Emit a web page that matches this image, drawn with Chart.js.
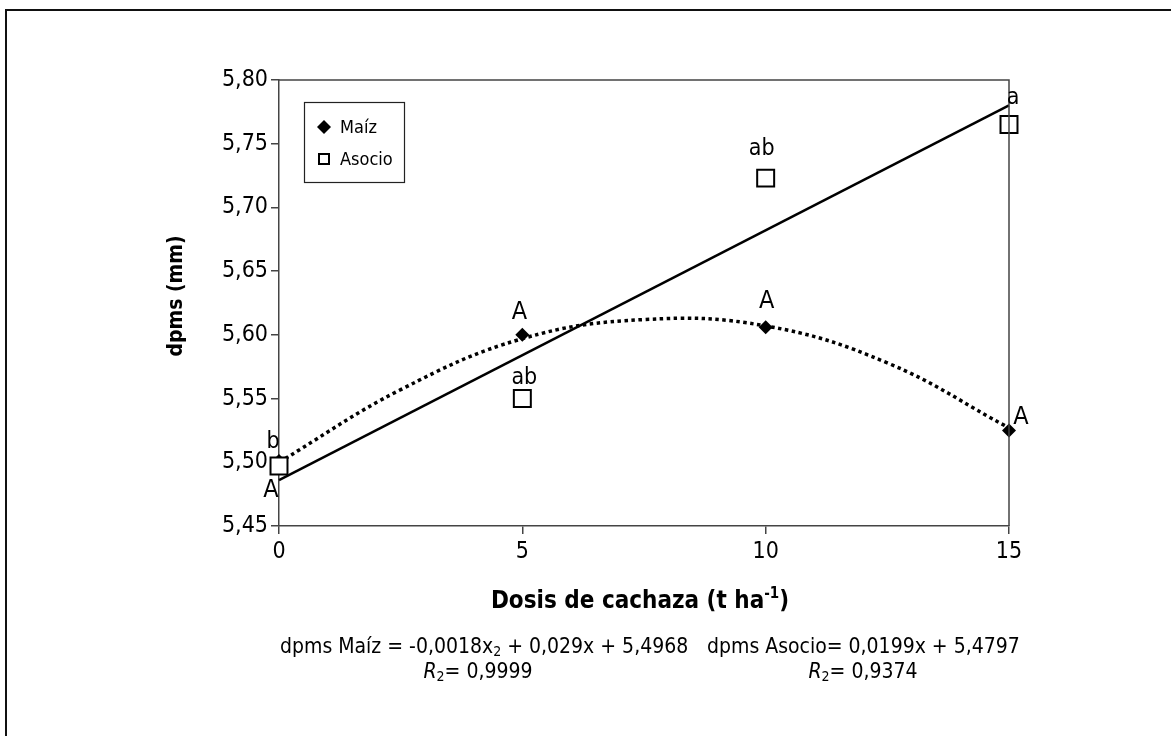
<!DOCTYPE html>
<html>
<head>
<meta charset="utf-8">
<script src="https://cdn.jsdelivr.net/npm/chart.js@4.4.1/dist/chart.umd.min.js"></script>
<style>
html, body { margin: 0; padding: 0; background: #fff; }
#wrap { position: relative; width: 1171px; height: 736px; overflow: hidden; }
#frame { position: absolute; left: 5px; top: 9px; right: -10px; bottom: -10px;
         border-top: 2px solid #111; border-left: 2px solid #111; }
canvas { position: absolute; left: 0; top: 0; }
</style>
</head>
<body>
<div id="wrap">
  <div id="frame"></div>
  <canvas id="myChart" width="1171" height="736"></canvas>
</div>
<script>
var FAMILY = '"DejaVu Sans", sans-serif';

// observed means
var doses = [0, 5, 10, 15];
var maiz = [5.501, 5.600, 5.606, 5.525];
var asocio = [5.497, 5.550, 5.723, 5.765];
var maizLetters = ['A', 'A', 'A', 'A'];
var asocioLetters = ['b', 'ab', 'ab', 'a'];

// trend lines
var maizFitX = [0, 2.5, 5, 7.5, 10, 12.5, 15];
var maizFitY = [5.500, 5.557, 5.597, 5.612, 5.607, 5.578, 5.527];
var asocioFitX = [0, 15];
var asocioFitY = [5.486, 5.780];

var xTicks = [0, 5, 10, 15];
var yTicks = [5.45, 5.50, 5.55, 5.60, 5.65, 5.70, 5.75, 5.80];

var xTitle = 'Dosis de cachaza (t ha';
var yTitle = 'dpms (mm)';
var eqMaiz = ['dpms Maíz = -0,0018x', '2', ' + 0,029x + 5,4968'];
var eqAsocio = 'dpms Asocio= 0,0199x + 5,4797';
var r2Maiz = '0,9999';
var r2Asocio = '0,9374';

function pts(xs, ys) {
    return xs.map(function (x, i) { return { x: x, y: ys[i] }; });
}

function fmt(v) {
    return v.toFixed(2).replace('.', ',');
}

// condensed face of the family
function setFont(ctx, pre, size) {
    ctx.font = (pre ? pre + ' ' : '') + 'condensed ' + size + 'px ' + FAMILY;
    try { ctx.fontStretch = 'condensed'; } catch (e) {}
}

// draws text pieces one after another, e.g. with small "2" subscripts
function runText(ctx, parts, x, y, align) {
    var total = 0;
    parts.forEach(function (p) { setFont(ctx, p.pre, p.size); total += ctx.measureText(p.t).width; });
    var cx = align === 'center' ? x - total / 2 : x;
    ctx.textAlign = 'left';
    parts.forEach(function (p) {
        setFont(ctx, p.pre, p.size);
        ctx.fillText(p.t, cx, y + (p.dy || 0));
        cx += ctx.measureText(p.t).width;
    });
}

var letterOffsets = {
    maiz: [[-8, 29], [-3, -22], [1, -26], [12, -13]],
    asocio: [[-6, -24], [2, -21], [-4, -29], [4, -27]]
};

var extras = {
    id: 'extras',
    afterDraw: function (chart) {
        var ctx = chart.ctx;
        var a = chart.chartArea;
        var xs = chart.scales.x, ys = chart.scales.y;
        ctx.save();

        // top and right frame of plot
        ctx.strokeStyle = '#444';
        ctx.lineWidth = 1.5;
        ctx.beginPath();
        ctx.moveTo(a.left, a.top);
        ctx.lineTo(a.right, a.top);
        ctx.lineTo(a.right, a.bottom);
        ctx.stroke();

        // legend
        ctx.strokeStyle = '#222';
        ctx.lineWidth = 1.2;
        ctx.strokeRect(304.5, 102.5, 100, 80);
        Chart.helpers.drawPoint(ctx, { pointStyle: 'rectRot', radius: 7, borderWidth: 0 }, 324, 127);
        ctx.fillStyle = '#000';
        ctx.fill();
        ctx.lineWidth = 2;
        ctx.strokeStyle = '#000';
        ctx.fillStyle = '#fff';
        ctx.fillRect(319, 154, 10, 10);
        ctx.strokeRect(319, 154, 10, 10);
        ctx.fillStyle = '#000';
        setFont(ctx, '', 18);
        ctx.textAlign = 'left';
        ctx.textBaseline = 'middle';
        ctx.fillText('Maíz', 340, 128);
        ctx.fillText('Asocio', 340, 160);

        // mean separation letters
        ctx.textAlign = 'center';
        doses.forEach(function (d, i) {
            var px = xs.getPixelForValue(d);
            var o = letterOffsets.maiz[i];
            setFont(ctx, '', 25);
            ctx.fillText(maizLetters[i], px + o[0], ys.getPixelForValue(maiz[i]) + o[1]);
            o = letterOffsets.asocio[i];
            setFont(ctx, '', 23);
            ctx.fillText(asocioLetters[i], px + o[0], ys.getPixelForValue(asocio[i]) + o[1]);
        });

        // axis titles
        setFont(ctx, 'bold', 24);
        var w1 = ctx.measureText(xTitle).width;
        setFont(ctx, 'bold', 15);
        var w2 = ctx.measureText('-1').width;
        setFont(ctx, 'bold', 24);
        var w3 = ctx.measureText(')').width;
        var tx = 640 - (w1 + w2 + w3) / 2;
        ctx.textAlign = 'left';
        ctx.fillText(xTitle, tx, 602);
        setFont(ctx, 'bold', 15);
        ctx.fillText('-1', tx + w1, 594);
        setFont(ctx, 'bold', 24);
        ctx.fillText(')', tx + w1 + w2, 602);

        ctx.save();
        ctx.translate(177, 296);
        ctx.rotate(-Math.PI / 2);
        ctx.textAlign = 'center';
        setFont(ctx, 'bold', 21);
        ctx.fillText(yTitle, 0, 0);
        ctx.restore();

        // regression equations
        runText(ctx, [
            { t: eqMaiz[0], size: 21 },
            { t: eqMaiz[1], size: 14, dy: 4 },
            { t: eqMaiz[2], size: 21 }
        ], 280, 648, 'left');
        runText(ctx, [
            { t: 'R', pre: 'italic', size: 21 },
            { t: '2', size: 14, dy: 4 },
            { t: '= ' + r2Maiz, size: 21 }
        ], 478, 673, 'center');
        runText(ctx, [{ t: eqAsocio, size: 21 }], 707, 648, 'left');
        runText(ctx, [
            { t: 'R', pre: 'italic', size: 21 },
            { t: '2', size: 14, dy: 4 },
            { t: '= ' + r2Asocio, size: 21 }
        ], 863, 673, 'center');

        ctx.restore();
    }
};

var context = document.getElementById('myChart').getContext('2d');

new Chart(context, {
    type: 'scatter',
    data: {
        datasets: [{
            label: 'Maíz ajuste',
            type: 'line',
            data: pts(maizFitX, maizFitY),
            borderColor: '#000',
            borderWidth: 3.5,
            borderDash: [3.5, 3.5],
            pointRadius: 0,
            tension: 0.4,
            fill: false,
            order: 3,
            clip: false
        }, {
            label: 'Asocio ajuste',
            type: 'line',
            data: pts(asocioFitX, asocioFitY),
            borderColor: '#000',
            borderWidth: 2.5,
            pointRadius: 0,
            fill: false,
            order: 2,
            clip: false
        }, {
            label: 'Maíz',
            data: pts(doses, maiz),
            pointStyle: 'rectRot',
            pointRadius: 7,
            backgroundColor: '#000',
            borderColor: '#000',
            borderWidth: 0,
            order: 1,
            clip: false
        }, {
            label: 'Asocio',
            data: pts(doses, asocio),
            pointStyle: 'rect',
            pointRadius: 12,
            backgroundColor: '#fff',
            borderColor: '#000',
            borderWidth: 2,
            order: 0,
            clip: false
        }]
    },
    options: {
        responsive: false,
        animation: false,
        layout: { padding: { left: 0, top: 80, right: 162, bottom: 0 } },
        plugins: {
            legend: { display: false },
            tooltip: { enabled: false }
        },
        scales: {
            x: {
                type: 'linear',
                min: 0,
                max: 15,
                afterBuildTicks: function (s) { s.ticks = xTicks.map(function (v) { return { value: v }; }); },
                afterFit: function (s) { s.height = 210; },
                grid: { drawOnChartArea: false, drawTicks: true, tickLength: 8, color: '#444', lineWidth: 1.5 },
                border: { display: true, color: '#444', width: 1.5 },
                ticks: { color: '#000', font: { family: FAMILY, size: 23, weight: 'condensed' }, padding: 4, maxRotation: 0 }
            },
            y: {
                type: 'linear',
                min: 5.45,
                max: 5.80,
                afterBuildTicks: function (s) { s.ticks = yTicks.map(function (v) { return { value: v }; }); },
                afterFit: function (s) { s.width = 279; },
                grid: { drawOnChartArea: false, drawTicks: true, tickLength: 8, color: '#444', lineWidth: 1.5 },
                border: { display: true, color: '#444', width: 1.5 },
                ticks: { color: '#000', font: { family: FAMILY, size: 23, weight: 'condensed' }, padding: 3, callback: fmt }
            }
        }
    },
    plugins: [extras]
});
</script>
</body>
</html>
